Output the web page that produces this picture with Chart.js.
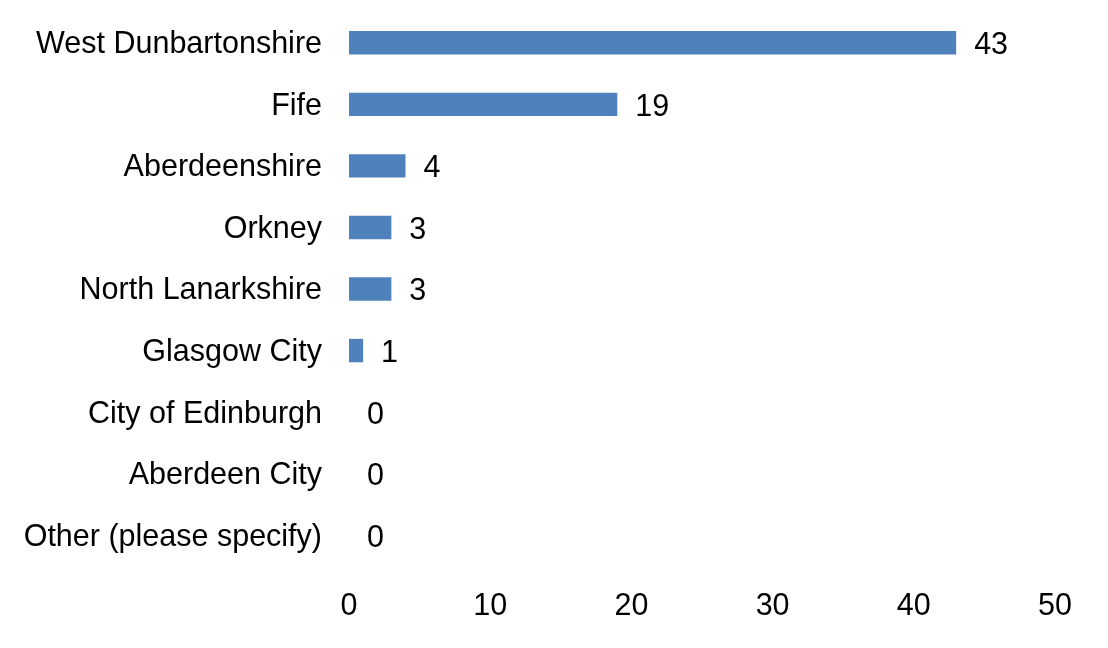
<!DOCTYPE html>
<html>
<head>
<meta charset="utf-8">
<script src="https://cdn.jsdelivr.net/npm/chart.js@4"></script>
<style>
  html, body { margin: 0; padding: 0; background: #fff; }
  #wrap { width: 1108px; height: 648px; position: relative; }
</style>
</head>
<body>
<div id="wrap"><canvas id="grafica"></canvas></div>
<script>
const councils = ["West Dunbartonshire", "Fife", "Aberdeenshire", "Orkney", "North Lanarkshire",
  "Glasgow City", "City of Edinburgh", "Aberdeen City", "Other (please specify)"];
const responses = [43, 19, 4, 3, 3, 1, 0, 0, 0];
const xTicks = [0, 10, 20, 30, 40, 50];

const fontFam = "'Liberation Sans', Arial, sans-serif";
const fontSize = 30.5;

// value labels next to each bar
const barValues = {
  id: "barValues",
  afterDatasetsDraw(chart) {
    const ctx = chart.ctx;
    const meta = chart.getDatasetMeta(0);
    ctx.save();
    ctx.font = fontSize + "px " + fontFam;
    ctx.fillStyle = "#000";
    ctx.textAlign = "left";
    ctx.textBaseline = "middle";
    meta.data.forEach((bar, i) => {
      ctx.fillText(String(responses[i]), bar.x + 18, bar.y + 3);
    });
    ctx.restore();
  }
};

window.onload = () => {
  new Chart(document.getElementById("grafica"), {
    type: "bar",
    data: {
      labels: councils,
      datasets: [{
        data: responses,
        backgroundColor: "#4F81BD",
        barPercentage: 0.38,
        categoryPercentage: 1
      }]
    },
    options: {
      indexAxis: "y",
      responsive: true,
      maintainAspectRatio: false,
      animation: false,
      layout: { padding: { top: 12, right: 53, bottom: 0, left: 0 } },
      plugins: { legend: { display: false }, tooltip: { enabled: false } },
      scales: {
        x: {
          min: 0, max: 50,
          afterBuildTicks: (s) => { s.ticks = xTicks.map(v => ({ value: v })); },
          afterFit: (s) => { s.height = 82; s.paddingLeft = 0; s.paddingRight = 0; },
          grid: { display: false, drawTicks: false },
          border: { display: false },
          ticks: { color: "#000", padding: 22, font: { size: fontSize, family: fontFam } }
        },
        y: {
          afterFit: (s) => { s.width = 349; s.paddingTop = 0; s.paddingBottom = 0; },
          grid: { display: false, drawTicks: false },
          border: { display: false },
          ticks: { color: "#000", padding: 27, labelOffset: 2, font: { size: fontSize, family: fontFam } }
        }
      }
    },
    plugins: [barValues]
  });
};
</script>
</body>
</html>
